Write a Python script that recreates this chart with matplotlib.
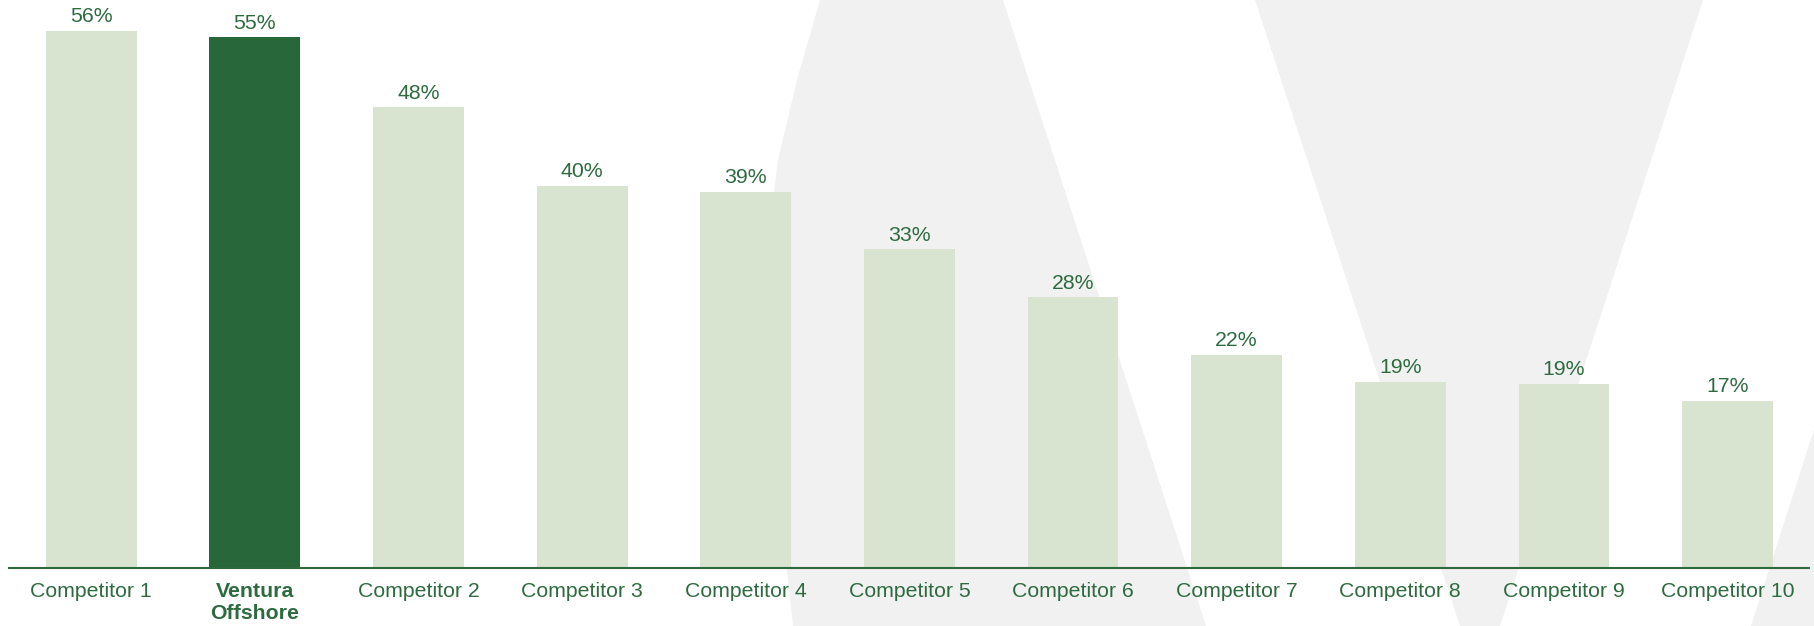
import matplotlib
matplotlib.use('Agg')
import matplotlib.pyplot as plt
from matplotlib.patches import Polygon

# data
categories = ['Competitor 1', 'Ventura\nOffshore', 'Competitor 2', 'Competitor 3',
              'Competitor 4', 'Competitor 5', 'Competitor 6', 'Competitor 7',
              'Competitor 8', 'Competitor 9', 'Competitor 10']
shares = [56.0, 55.3, 48.0, 39.8, 39.2, 33.2, 28.2, 22.2, 19.4, 19.2, 17.4]
highlight = 'Ventura\nOffshore'

light_green = '#d8e3d0'
dark_green = '#27673a'
text_green = '#2d6b3f'
logo_grey = '#f1f1f1'

plt.rcParams['font.family'] = ['Liberation Sans', 'DejaVu Sans']

fig = plt.figure(figsize=(18.15, 6.26), dpi=100)

# faint "V" watermark behind the chart, drawn in pixel space
bg = fig.add_axes([0, 0, 1, 1], zorder=0)
bg.set_xlim(0, 1815)
bg.set_ylim(626, 0)
bg.axis('off')
left_stroke = [(820, 0), (797, 80), (778, 160), (768, 240), (763, 320), (766, 400),
               (775, 480), (786, 560), (793, 626), (1206, 626), (1003, 0)]
right_v = [(1255, 0), (1703, 0), (1500, 626), (1460, 626)]
corner = [(1818, 417), (1830, 417), (1830, 626), (1751, 626)]
for shape in (left_stroke, right_v, corner):
    bg.add_patch(Polygon(shape, closed=True, facecolor=logo_grey, edgecolor='none'))

# main bar chart
ax = fig.add_axes([0.0052, 0.0927, 0.9917, 0.9073], zorder=1)
ax.patch.set_alpha(0)

x = range(len(categories))
colors = [dark_green if c == highlight else light_green for c in categories]
bars = ax.bar(x, shares, width=0.555, color=colors)
ax.bar_label(bars, labels=[f'{v:.0f}%' for v in shares], padding=3.5,
             fontsize=15.3, color=text_green)

ax.set_xlim(-0.5, len(categories) - 0.5)
ax.set_ylim(0, 59.2)
ax.set_yticks([])
ax.set_xticks(list(x), categories)
ax.tick_params(axis='x', length=0, pad=10, labelsize=15.3, labelcolor=text_green)
for lbl in ax.get_xticklabels():
    if lbl.get_text() == highlight:
        lbl.set_fontweight('bold')

for side in ['top', 'left', 'right']:
    ax.spines[side].set_visible(False)
ax.spines['bottom'].set_color(text_green)
ax.spines['bottom'].set_linewidth(1.5)

fig.savefig('out.png', dpi=100)
